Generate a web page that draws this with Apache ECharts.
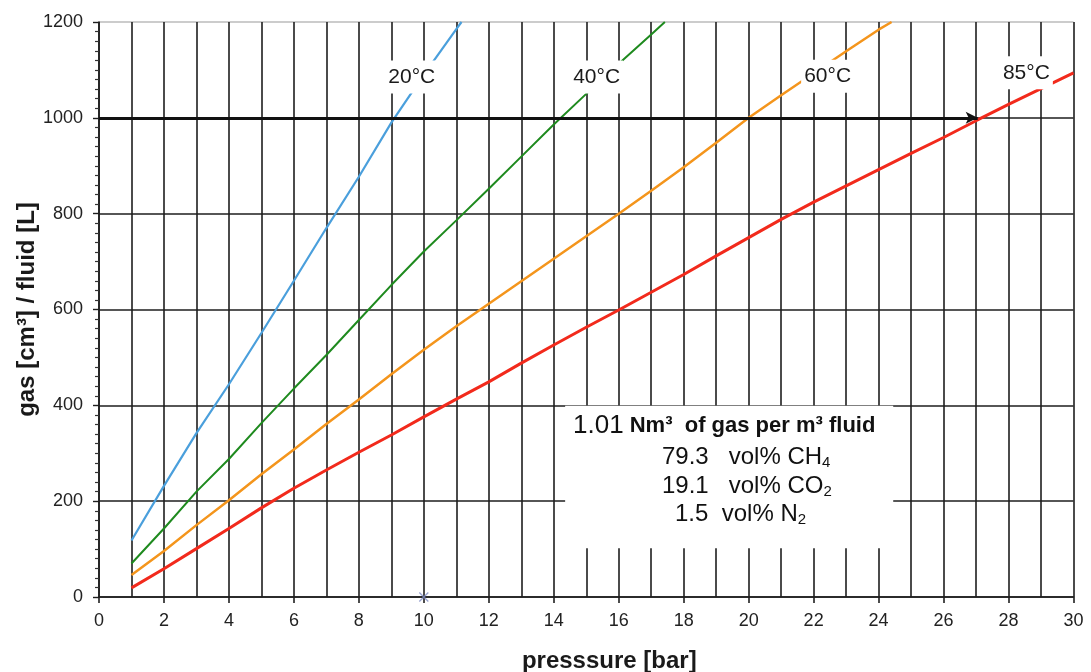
<!DOCTYPE html>
<html><head><meta charset="utf-8">
<script src="https://cdn.jsdelivr.net/npm/echarts@6/dist/echarts.min.js"></script>
<style>html,body{margin:0;padding:0;background:#fff}#c{width:1091px;height:672px}</style>
</head><body><div id="c"></div>
<script>
// ---- data ----
const p20 = [1,2,3,4,5,6,7,8,9,10,11,11.16];
const v20 = [118,232,342,444,551,660,770,877,990,1090,1185,1200];
const p40 = [1,2,3,4,5,6,7,8,9,10,11,12,13,14,15,16,17,17.42];
const v40 = [70,143,220,288,363,435,505,578,651,721,786,852,919,986,1050,1113,1174,1200];
const p60 = [1,2,3,4,5,6,7,8,9,10,11,12,13,14,15,16,17,18,19,20,21,22,23,24,24.4];
const v60 = [46,96,150,202,256,308,361,412,465,516,565,612,659,706,753,800,848,897,948,1000,1047,1093,1139,1184,1200];
const p85 = [1,2,3,4,5,6,7,8,9,10,11,12,13,14,15,16,17,18,19,20,21,22,23,24,25,26,27,28,29,30];
const v85 = [19,59,101,143,186,227,265,302,338,376,413,449,488,526,563,599,636,673,712,750,788,824,858,892,926,959,994,1028,1061,1094];
const tempLabels = ['20°C','40°C','60°C','85°C'];
const tempLabelX = [9.63, 15.32, 22.43, 28.55];
const tempLabelY = [1085, 1085, 1087, 1094];
const arrowFrom = [0, 1000];
const arrowTo = [27.05, 1000];
const boxFrom = [14.35, 102];
const boxTo = [24.45, 399];
const crossMark = [[10, 0]];
const xName = 'presssure [bar]';
const yName = 'gas [cm³] / fluid [L]';

const zip = (xs, ys) => xs.map((x, i) => [x, ys[i]]);
const FONT = '"Liberation Sans", Arial, Helvetica, sans-serif';
const GRID = '#1e1e1e';

const chart = echarts.init(document.getElementById('c'), null, {renderer: 'canvas'});
const lineSeries = (name, data, color, width) => ({
  name, type: 'line', data, showSymbol: false, symbol: 'none', smooth: false,
  lineStyle: {color, width}, itemStyle: {color}, silent: true, z: 3, animation: false
});

const option = {
  animation: false,
  backgroundColor: '#fff',
  grid: {left: 99, right: 17.5, top: 22, bottom: 75, containLabel: false, outerBoundsMode: 'none'},
  xAxis: {
    type: 'value', min: 0, max: 30, interval: 2,
    name: xName, nameLocation: 'middle', nameGap: 52,
    nameTextStyle: {fontFamily: FONT, fontSize: 24, fontWeight: 'bold', color: '#1a1a1a', padding: [0, 0, 0, 46]},
    axisLine: {show: true, onZero: false, lineStyle: {color: GRID, width: 1.6}},
    axisTick: {show: true, length: 6, lineStyle: {color: GRID, width: 1.6}},
    minorTick: {show: false, splitNumber: 2},
    splitLine: {show: true, lineStyle: {color: GRID, width: 1.6}},
    minorSplitLine: {show: true, lineStyle: {color: GRID, width: 1.6}},
    axisLabel: {fontFamily: FONT, fontSize: 18, color: '#222', margin: 15}
  },
  yAxis: {
    type: 'value', min: 0, max: 1200, interval: 200,
    name: yName, nameLocation: 'middle', nameGap: 60, nameRotate: 90, nameMoveOverlap: false,
    nameTextStyle: {fontFamily: FONT, fontSize: 24, fontWeight: 'bold', color: '#1a1a1a'},
    axisLine: {show: true, onZero: false, lineStyle: {color: GRID, width: 1.6}},
    axisTick: {show: true, length: 6, lineStyle: {color: GRID, width: 1.4}},
    minorTick: {show: true, splitNumber: 10, length: 4, lineStyle: {color: '#333', width: 1.2}},
    splitLine: {show: true, lineStyle: {color: [GRID, GRID, GRID, GRID, GRID, GRID, '#bbbbbb'], width: 1.6}},
    axisLabel: {fontFamily: FONT, fontSize: 18, color: '#222', margin: 16, formatter: v => String(v)}
  },
  series: [
    lineSeries('20°C', zip(p20, v20), '#4a9fdc', 2.2),
    lineSeries('40°C', zip(p40, v40), '#1e8a1e', 2),
    lineSeries('60°C', zip(p60, v60), '#f4951c', 2.5),
    Object.assign(lineSeries('85°C', zip(p85, v85), '#f22a1c', 3), {
      markArea: {
        silent: true,
        itemStyle: {color: '#ffffff', opacity: 1},
        label: {show: false},
        data: [[{coord: boxFrom}, {coord: boxTo}]]
      },
      markLine: {
        silent: true, symbol: ['none', 'arrow'], symbolSize: [9, 12],
        label: {show: false},
        lineStyle: {color: '#111', width: 3.2, type: 'solid'},
        data: [[{coord: arrowFrom}, {coord: arrowTo}]]
      }
    }),
    {
      type: 'scatter', z: 10, silent: true, symbolSize: 1,
      itemStyle: {color: '#ffffff', opacity: 1},
      data: tempLabels.map((t, i) => ({name: t, value: [tempLabelX[i], tempLabelY[i]]})),
      label: {
        show: true, position: 'inside', formatter: p => p.name,
        fontFamily: FONT, fontSize: 21, color: '#1a1a1a', opacity: 1,
        backgroundColor: '#ffffff', padding: [6, 3, 6, 3]
      }
    },
    {
      type: 'scatter', z: 4, silent: true, symbolSize: 9,
      symbol: 'path://M0,0L10,10M10,0L0,10',
      itemStyle: {color: 'rgba(0,0,0,0)', borderColor: '#7f8cc4', borderWidth: 1.3},
      data: crossMark
    }
  ],
  graphic: [
    {type: 'text', left: 573, top: 413, z: 20, silent: true,
     style: {text: '{a|1.01} {b|Nm³  of gas per m³ fluid}', fontFamily: FONT, fontSize: 22, fontWeight: 'bold', fill: '#111',
       rich: {a: {fontFamily: FONT, fontSize: 26, fill: '#111'}, b: {fontFamily: FONT, fontSize: 22, fontWeight: 'bold', fill: '#111'}}}},
    {type: 'text', left: 662, top: 444, z: 20, silent: true,
     style: {text: '{n|79.3   vol% CH}{s|4}', fontFamily: FONT, fontSize: 24, fill: '#111',
       rich: {n: {fontFamily: FONT, fontSize: 24, lineHeight: 24, verticalAlign: 'top', fill: '#111'},
              s: {fontFamily: FONT, fontSize: 15, lineHeight: 15, padding: [11, 0, 0, 0], fill: '#111'}}}},
    {type: 'text', left: 662, top: 473, z: 20, silent: true,
     style: {text: '{n|19.1   vol% CO}{s|2}', fontFamily: FONT, fontSize: 24, fill: '#111',
       rich: {n: {fontFamily: FONT, fontSize: 24, lineHeight: 24, verticalAlign: 'top', fill: '#111'},
              s: {fontFamily: FONT, fontSize: 15, lineHeight: 15, padding: [11, 0, 0, 0], fill: '#111'}}}},
    {type: 'text', left: 675, top: 501, z: 20, silent: true,
     style: {text: '{n|1.5  vol% N}{s|2}', fontFamily: FONT, fontSize: 24, fill: '#111',
       rich: {n: {fontFamily: FONT, fontSize: 24, lineHeight: 24, verticalAlign: 'top', fill: '#111'},
              s: {fontFamily: FONT, fontSize: 15, lineHeight: 15, padding: [11, 0, 0, 0], fill: '#111'}}}}
  ]
};
chart.setOption(option);
</script></body></html>
